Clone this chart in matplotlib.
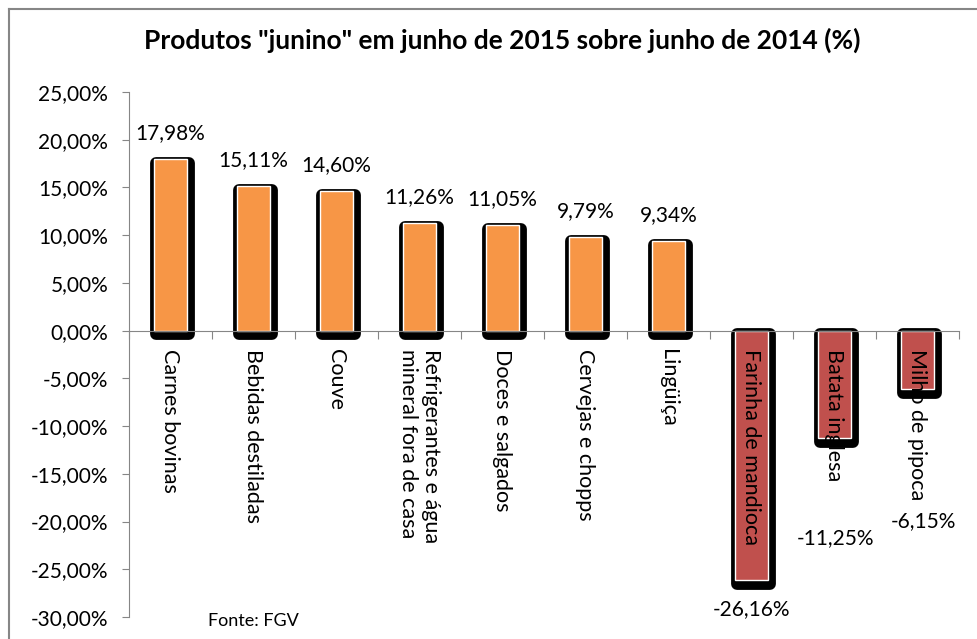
import numpy as np
import matplotlib
matplotlib.use("Agg")
import matplotlib.pyplot as plt
import matplotlib.transforms as mtransforms
from matplotlib.lines import Line2D

plt.rcParams['font.family'] = ['Lato', 'DejaVu Sans']

categories = ["Carnes bovinas", "Bebidas destiladas", "Couve",
              "Refrigerantes e água\nmineral fora de casa", "Doces e salgados",
              "Cervejas e chopps", "Lingüiça", "Farinha de mandioca",
              "Batata inglesa", "Milho de pipoca"]
values = [17.98, 15.11, 14.60, 11.26, 11.05, 9.79, 9.34, -26.16, -11.25, -6.15]
value_labels = ["17,98%", "15,11%", "14,60%", "11,26%", "11,05%", "9,79%",
                "9,34%", "-26,16%", "-11,25%", "-6,15%"]
y_ticks = [25, 20, 15, 10, 5, 0, -5, -10, -15, -20, -25, -30]
y_tick_labels = ["25,00%", "20,00%", "15,00%", "10,00%", "5,00%", "0,00%",
                 "-5,00%", "-10,00%", "-15,00%", "-20,00%", "-25,00%", "-30,00%"]

grey = '#868686'
fig = plt.figure(figsize=(9.77, 6.39), dpi=100)
ax = fig.add_axes([0.1320, 0.0344, 0.8495, 0.8216])

x = np.arange(len(values))
colors = ['#F79646' if v > 0 else '#C0504D' for v in values]

# black "shadow" bar behind, shifted right/down a little
shadow = mtransforms.offset_copy(ax.transData, fig=fig, x=2, y=-3.5, units='dots')
ax.bar(x, values, width=0.4, color='black', edgecolor='black', linewidth=8.5,
       joinstyle='round', transform=shadow, zorder=2)
ax.bar(x, values, width=0.4, color=colors, edgecolor='white', linewidth=1, zorder=3)

ax.set_xlim(-0.5, len(values) - 0.5)
ax.set_ylim(-30, 25)

for s in ['top', 'right']:
    ax.spines[s].set_visible(False)
ax.spines['left'].set_color(grey)
ax.spines['bottom'].set_position(('data', 0))
ax.spines['bottom'].set_color(grey)
ax.spines['bottom'].set_zorder(4)

ax.set_xticks(np.arange(-0.5, len(values), 1))
ax.set_xticklabels([])
ax.tick_params(axis='x', direction='out', length=6, color=grey)
ax.set_yticks(y_ticks)
ax.set_yticklabels(y_tick_labels)
ax.tick_params(axis='y', direction='out', length=5, color=grey, labelsize=15, pad=10)

# category labels, rotated, hanging below the zero line
for i, name in enumerate(categories):
    ax.text(i, -1.9, name, rotation=-90, ha='center', va='top',
            multialignment='left', fontsize=15.5, zorder=5)

# value labels
label_offsets = [19, 19, 19, 19, 19, 19, 19, -21, -72, -95]
label_dx = [0, 0, 0, 0, 0, 0, 0, 0, 1, 4]
for i, (v, txt) in enumerate(zip(values, value_labels)):
    ax.annotate(txt, (i, v), xytext=(label_dx[i], label_offsets[i]),
                textcoords='offset points', ha='center', va='center',
                fontsize=15, zorder=5)

fig.text(0.514, 1 - 40 / 639, 'Produtos "junino" em junho de 2015 sobre junho de 2014 (%)',
         ha='center', va='center', fontsize=19, fontweight='bold')
fig.text(208 / 977, 1 - 621 / 639, 'Fonte: FGV', ha='left', va='center', fontsize=13)

# chart area border (top and left only visible)
fig.add_artist(Line2D([9 / 977, 1], [1 - 9 / 639, 1 - 9 / 639],
                      transform=fig.transFigure, color=grey, lw=1.5))
fig.add_artist(Line2D([9 / 977, 9 / 977], [0, 1 - 9 / 639],
                      transform=fig.transFigure, color=grey, lw=1.5))

fig.savefig('out.png', dpi=100)
